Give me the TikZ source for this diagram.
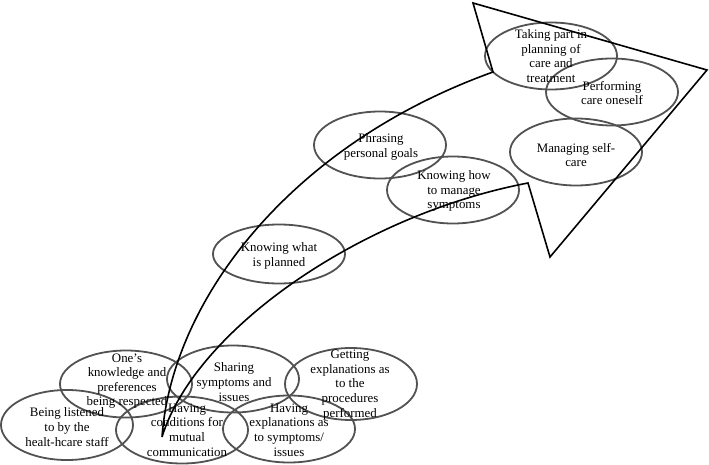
\documentclass[tikz,border=0pt]{standalone}
\usepackage{fontspec}
\setmainfont{Liberation Serif}
\usetikzlibrary{shapes.geometric}

\begin{document}
\begin{tikzpicture}[x=1pt, y=-1pt,
  oval/.style={ellipse, draw=black!68, line width=1.8pt, minimum width=132pt, minimum height=67pt, inner sep=0pt},
  txt/.style={align=center, inner sep=0pt, font=\fontsize{12.9}{14.6}\selectfont}]
  \useasboundingbox (0,0) rectangle (709,465);
  \node [oval] (plan)    at (551,56)  {};
  \node [oval] (perform) at (612,92)  {};
  \node [oval] (manage)  at (576,152) {};
  \node [oval] (goals)   at (380,145) {};
  \node [oval] (sympt)   at (453,190) {};
  \node [oval, minimum height=59pt] (know) at (279,254) {};
  \node [oval] (respect) at (126,384) {};
  \node [oval] (share)   at (233,379) {};
  \node [oval, minimum height=72pt] (proc) at (351,384) {};
  \node [oval, minimum height=70pt] (listen) at (67,425) {};
  \node [oval] (mutual)  at (182,430) {};
  \node [oval] (explain) at (289,429) {};
  \node [txt] (plan t)    at (551,56)  {Taking part in\\planning of\\care and\\treatment};
  \node [txt] (perform t) at (612,93)  {Performing\\care oneself};
  \node [txt] (manage t)  at (576,155) {Managing self-\\care};
  \node [txt] (goals t)   at (381,147) {Phrasing\\personal goals};
  \node [txt] (sympt t)   at (454,191) {Knowing how\\to manage\\symptoms};
  \node [txt] (know t)    at (279,256) {Knowing what\\is planned};
  \node [txt] (respect t) at (127,381) {One’s\\knowledge and\\preferences\\being respected};
  \node [txt] (share t)   at (234,382) {Sharing\\symptoms and\\issues};
  \node [txt] (proc t)    at (350,385) {Getting\\explanations as\\to the\\procedures\\performed};
  \node [txt] (listen t)  at (67,427)  {Being listened\\to by the\\healt-hcare staff};
  \node [txt] (mutual t)  at (187,430) {Having\\conditions for\\mutual\\communication};
  \node [txt] (explain t) at (289,430) {Having\\explanations as\\to symptoms/\\issues};
  \coordinate (start) at (162,437);
  \coordinate (inner1) at (493,72);
  \coordinate (head1) at (473,3);
  \coordinate (tip) at (707,70);
  \coordinate (head2) at (550,257);
  \coordinate (inner2) at (528,183);
  \draw [line width=1.6pt, line join=miter] (start) .. controls (172,300) and (290,145) .. (inner1)
    -- (head1) -- (tip) -- (head2) -- (inner2)
    .. controls (360,215) and (195,330) .. (start);
\end{tikzpicture}
\end{document}
